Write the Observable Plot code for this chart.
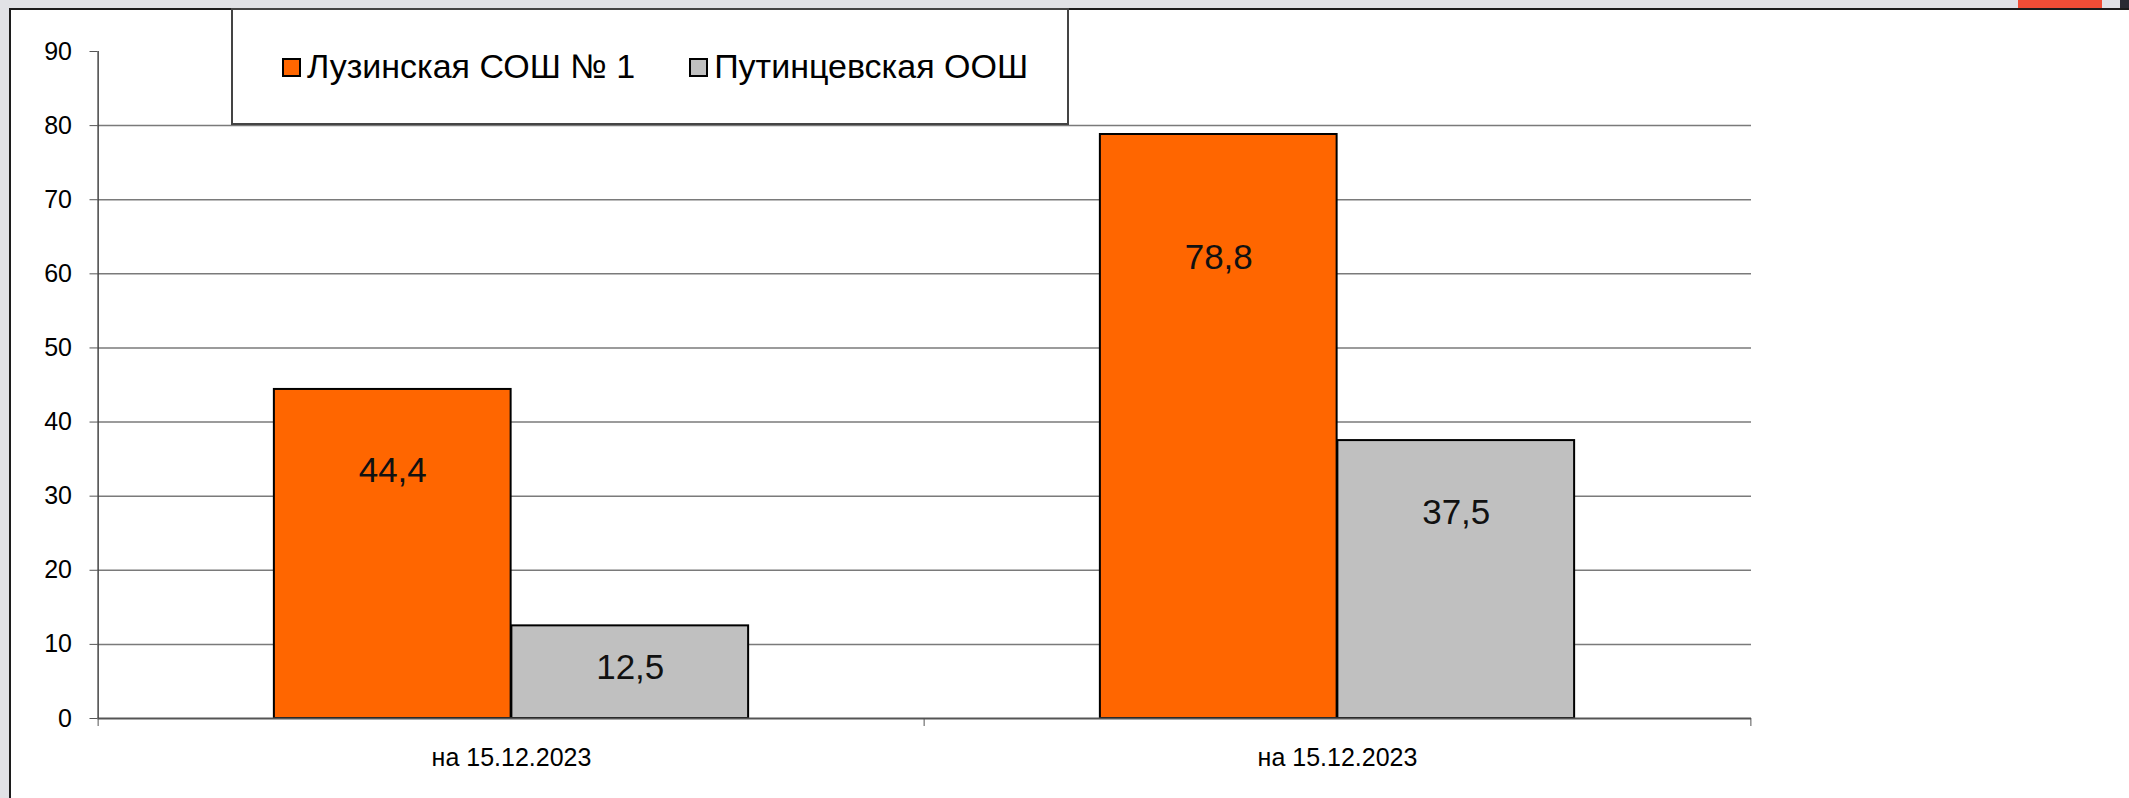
<!DOCTYPE html>
<html>
<head>
<meta charset="utf-8">
<script src="https://cdn.jsdelivr.net/npm/d3@7"></script>
<script src="https://cdn.jsdelivr.net/npm/@observablehq/plot@0.6"></script>
<style>
  html, body { margin: 0; padding: 0; background: #fff; }
  body { width: 2129px; height: 798px; overflow: hidden; position: relative;
         font-family: "Liberation Sans", Arial, sans-serif; }
  #chart { position: absolute; left: 0; top: 0; }
  .chrome { position: absolute; }
  #legend { position: absolute; left: 231px; top: 8px; width: 838px; height: 117px;
            box-sizing: border-box; border: 2px solid #444; background: #fff;
            display: flex; align-items: center; padding-left: 49px; gap: 54px; }
  #legend .item { display: flex; align-items: center; font-size: 34px; color: #000; white-space: nowrap; }
  #legend .sw { width: 19px; height: 19px; box-sizing: border-box; border: 2px solid #000; margin-right: 6px; margin-top: 1px; }
</style>
</head>
<body>
<div id="chart"></div>
<script>
// ---- data ----
const categories = ["на 15.12.2023", "на 15.12.2023"];
const seriesNames = ["Лузинская СОШ № 1", "Путинцевская ООШ"];
const luzinskaya = [44.4, 78.8];
const putintsevskaya = [12.5, 37.5];
const yTicks = [0, 10, 20, 30, 40, 50, 60, 70, 80, 90];

// ---- layout ----
const W = 2129, H = 798;
const mL = 97.5, mR = 378, mT = 51, mB = 80;
const band = (W - mL - mR) / categories.length;
const half = band / 2;
const barW = 237.5;
const outer = half - barW;
const labelPos = v => 0.836 * v - 3.65;

const rows = [];
categories.forEach((c, i) => {
  rows.push({g: i, s: seriesNames[0], v: luzinskaya[i]});
  rows.push({g: i, s: seriesNames[1], v: putintsevskaya[i]});
});
const s0 = rows.filter(d => d.s === seriesNames[0]);
const s1 = rows.filter(d => d.s === seriesNames[1]);

const fmt = d3.formatLocale({decimal: ",", thousands: "\u00a0", grouping: [3], currency: ["", ""]}).format(".1f");

const plot = Plot.plot({
  width: W, height: H,
  marginLeft: mL, marginRight: mR, marginTop: mT, marginBottom: mB,
  style: {background: "transparent", fontFamily: "'Liberation Sans', Arial, sans-serif", color: "#000", overflow: "visible"},
  x: {type: "band", domain: categories.map((_, i) => i), padding: 0, label: null},
  y: {domain: [0, 90], label: null},
  color: {domain: seriesNames, range: ["#ff6600", "#c0c0c0"]},
  marks: [
    Plot.ruleY(yTicks.filter(t => t > 0 && t < 90), {stroke: "#7a7a7a", strokeWidth: 1.5}),
    Plot.barY(s0, {x: "g", y: "v", fill: "s", stroke: "#000", strokeWidth: 2, insetLeft: outer, insetRight: half}),
    Plot.barY(s1, {x: "g", y: "v", fill: "s", stroke: "#000", strokeWidth: 2, insetLeft: half, insetRight: outer}),
    Plot.ruleY([0], {stroke: "#555", strokeWidth: 2}),
    Plot.ruleX([0], {x: d => d, y1: 0, y2: 90, dx: -half, stroke: "#444", strokeWidth: 1.5}),
    Plot.axisY({ticks: yTicks, tickSize: 8, tickPadding: 18, fontSize: 25, stroke: "#555", label: null}),
    Plot.axisX({tickSize: 0, tickPadding: 30, tickFormat: i => categories[i], fontSize: 25, label: null}),
    Plot.axisX({tickSize: 8, tickFormat: () => "", dx: -half, stroke: "#555", label: null}),
    Plot.axisX({ticks: [categories.length - 1], tickSize: 8, tickFormat: () => "", dx: half, stroke: "#555", label: null}),
    Plot.text(s0, {x: "g", y: d => labelPos(d.v), text: d => fmt(d.v), dx: -barW / 2, fontSize: 35, fill: "#111"}),
    Plot.text(s1, {x: "g", y: d => labelPos(d.v), text: d => fmt(d.v), dx: barW / 2, fontSize: 35, fill: "#111"})
  ]
});
document.getElementById("chart").appendChild(plot);

// ---- window chrome ----
const body = d3.select("body");
const chrome = [
  {l: 0, t: 0, w: W, h: 8, c: "#e1e2e6"},
  {l: 0, t: 0, w: 9.5, h: H, c: "#e1e2e6"},
  {l: 9, t: 8, w: W - 9, h: 2, c: "#1c1c1c"},
  {l: 9, t: 8, w: 2, h: H - 8, c: "#1c1c1c"},
  {l: 2018, t: 0, w: 84, h: 8, c: "#f24d36"},
  {l: 2120, t: 0, w: 9, h: 8, c: "#2a2a33"}
];
chrome.forEach(r => body.append("div").attr("class", "chrome")
  .style("left", r.l + "px").style("top", r.t + "px")
  .style("width", r.w + "px").style("height", r.h + "px").style("background", r.c));

// ---- legend ----
const colorScale = plot.scale("color");
const lg = body.append("div").attr("id", "legend");
seriesNames.forEach((n, i) => {
  const it = lg.append("div").attr("class", "item");
  it.append("div").attr("class", "sw").style("background", colorScale.range[i]);
  it.append("span").text(n);
});
</script>
</body>
</html>
